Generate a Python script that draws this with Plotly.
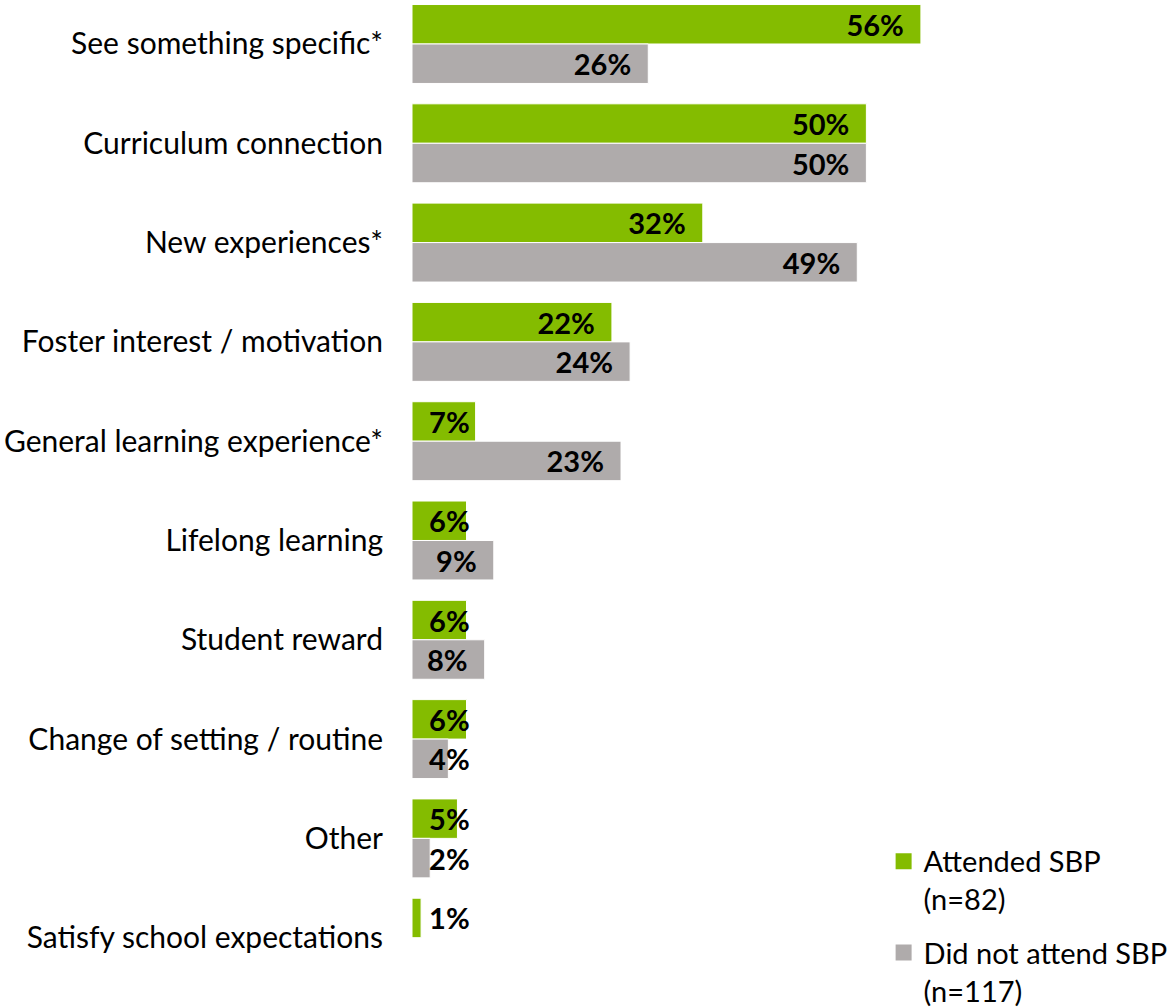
import plotly.graph_objects as go

# Reasons for the visit, top to bottom
categories = [
    "See something specific*",
    "Curriculum connection",
    "New experiences*",
    "Foster interest / motivation",
    "General learning experience*",
    "Lifelong learning",
    "Student reward",
    "Change of setting / routine",
    "Other",
    "Satisfy school expectations",
]
attended = [56, 50, 32, 22, 7, 6, 6, 6, 5, 1]
not_attended = [26, 50, 49, 24, 23, 9, 8, 4, 2, 0]

series_names = ["Attended SBP<br>(n=82)", "Did not attend SBP<br>(n=117)"]
colors = ["#84BC00", "#AFABAB"]

FONT = "Lato"
TICK_SIZE = 30
LABEL_SIZE = 29
LEGEND_SIZE = 29
NB = "\u00a0\u00a0"
SMALL = 8  # below this, labels start from the bar base instead of its end


def end_labels(vals):
    return [f"{v}%{NB}" if v >= SMALL else "" for v in vals]


def start_labels(vals):
    return [f"{NB}{v}%" if 0 < v < SMALL else "" for v in vals]


label_font = dict(family=FONT, size=LABEL_SIZE, color="black", weight="bold")

fig = go.Figure()
for i, (vals, col) in enumerate([(attended, colors[0]), (not_attended, colors[1])]):
    fig.add_trace(go.Bar(
        y=categories, x=vals, orientation="h", offsetgroup=str(i),
        marker=dict(color=col, line=dict(color="white", width=1)),
        text=end_labels(vals), textposition="inside", insidetextanchor="end",
        constraintext="none", textangle=0, textfont=label_font,
        showlegend=False, hoverinfo="skip",
    ))
for i, vals in enumerate([attended, not_attended]):
    fig.add_trace(go.Bar(
        y=categories, x=vals, orientation="h", offsetgroup=str(i),
        marker=dict(color="rgba(0,0,0,0)", line=dict(width=0)),
        text=start_labels(vals), textposition="inside", insidetextanchor="start",
        constraintext="none", textangle=0, textfont=label_font,
        showlegend=False, hoverinfo="skip",
    ))
# legend entries
for k, (name, col) in enumerate(zip(series_names, colors)):
    fig.add_trace(go.Scatter(
        x=[None], y=[None], mode="markers", name=name, legendgroup=f"g{k}",
        marker=dict(symbol="square", size=16, color=col),
    ))

fig.update_layout(
    width=1169, height=1007,
    margin=dict(l=412, r=0, t=0, b=0, autoexpand=False),
    paper_bgcolor="white", plot_bgcolor="white",
    barmode="group", bargap=0.205, bargroupgap=0,
    font=dict(family=FONT, size=TICK_SIZE, color="black"),
    xaxis=dict(range=[0, 83.3], visible=False, fixedrange=True),
    yaxis=dict(
        categoryorder="array", categoryarray=categories,
        range=[9.698, -0.443], showgrid=False, zeroline=False,
        showline=False, ticks="", ticklabelstandoff=28,
        tickfont=dict(family=FONT, size=TICK_SIZE, color="black"),
    ),
    legend=dict(
        x=0.623, y=0.170, xanchor="left", yanchor="top",
        bgcolor="rgba(0,0,0,0)", valign="top",
        font=dict(family=FONT, size=LEGEND_SIZE, color="black"),
        tracegroupgap=13,
    ),
    showlegend=True,
)

fig.write_html("out.html")
